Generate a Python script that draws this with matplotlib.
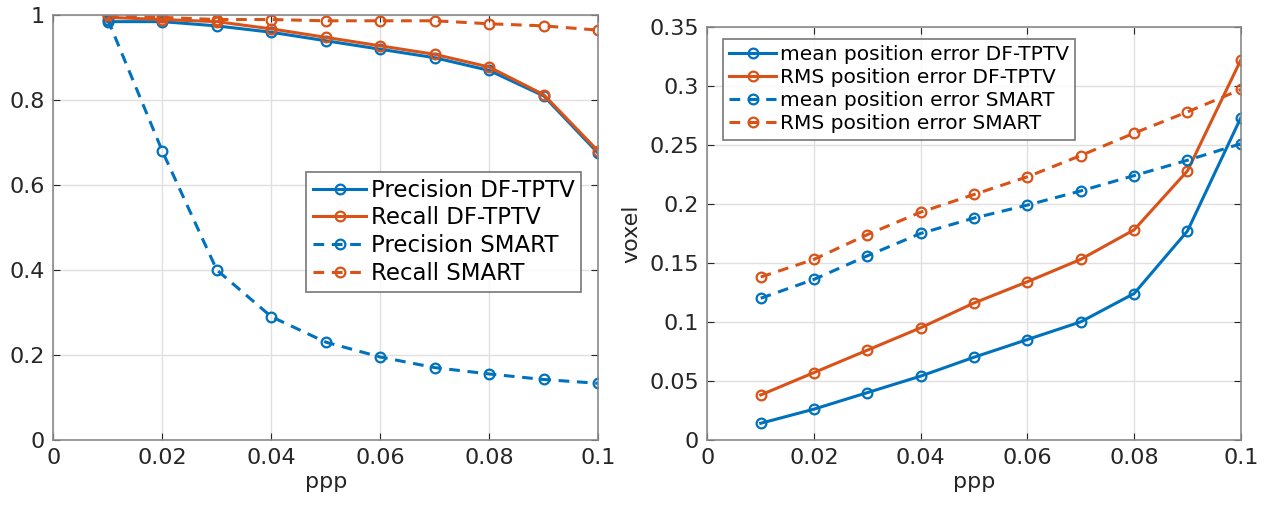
import matplotlib
matplotlib.use("Agg")
import matplotlib.pyplot as plt

ppp = [0.01, 0.02, 0.03, 0.04, 0.05, 0.06, 0.07, 0.08, 0.09, 0.10]

prec_dftptv = [0.985, 0.985, 0.975, 0.96, 0.94, 0.92, 0.90, 0.87, 0.81, 0.675]
rec_dftptv = [0.995, 0.99, 0.985, 0.968, 0.948, 0.928, 0.908, 0.878, 0.813, 0.68]
prec_smart = [0.99, 0.68, 0.40, 0.29, 0.23, 0.195, 0.17, 0.155, 0.142, 0.133]
rec_smart = [1.0, 0.995, 0.99, 0.99, 0.987, 0.987, 0.987, 0.98, 0.975, 0.965]

mean_dftptv = [0.014, 0.026, 0.040, 0.054, 0.070, 0.085, 0.100, 0.124, 0.177, 0.273]
rms_dftptv = [0.038, 0.057, 0.076, 0.095, 0.116, 0.134, 0.153, 0.178, 0.228, 0.322]
mean_smart = [0.120, 0.136, 0.156, 0.175, 0.188, 0.199, 0.211, 0.224, 0.237, 0.251]
rms_smart = [0.138, 0.153, 0.174, 0.193, 0.208, 0.223, 0.241, 0.260, 0.278, 0.297]

xticks = [0, 0.02, 0.04, 0.06, 0.08, 0.1]
xticklabels = ["0", "0.02", "0.04", "0.06", "0.08", "0.1"]
left_yticks = [0, 0.2, 0.4, 0.6, 0.8, 1]
left_yticklabels = ["0", "0.2", "0.4", "0.6", "0.8", "1"]
right_yticks = [0, 0.05, 0.1, 0.15, 0.2, 0.25, 0.3, 0.35]
right_yticklabels = ["0", "0.05", "0.1", "0.15", "0.2", "0.25", "0.3", "0.35"]

BLUE = "#0072BD"
ORANGE = "#D95319"
TXT = "#262626"

plt.rcParams['font.family'] = ['DejaVu Sans']

fig = plt.figure(figsize=(12.7, 5.09), dpi=100)
ax1 = fig.add_axes([0.042, 0.136, 0.429, 0.834])
ax2 = fig.add_axes([0.557, 0.136, 0.420, 0.811])

mk = dict(marker='o', markersize=7, markerfacecolor='none', markeredgewidth=1.6)

ax1.plot(ppp, prec_dftptv, '-', color=BLUE, lw=2.2, label='Precision DF-TPTV', **mk)
ax1.plot(ppp, rec_dftptv, '-', color=ORANGE, lw=2.2, label='Recall DF-TPTV', **mk)
ax1.plot(ppp, prec_smart, '--', color=BLUE, lw=2.2, label='Precision SMART', dashes=(3.5, 2.5), **mk)
ax1.plot(ppp, rec_smart, '--', color=ORANGE, lw=2.2, label='Recall SMART', dashes=(3.5, 2.5), **mk)

ax2.plot(ppp, mean_dftptv, '-', color=BLUE, lw=2.2, label='mean position error DF-TPTV', **mk)
ax2.plot(ppp, rms_dftptv, '-', color=ORANGE, lw=2.2, label='RMS position error DF-TPTV', **mk)
ax2.plot(ppp, mean_smart, '--', color=BLUE, lw=2.2, label='mean position error SMART', dashes=(3.5, 2.5), **mk)
ax2.plot(ppp, rms_smart, '--', color=ORANGE, lw=2.2, label='RMS position error SMART', dashes=(3.5, 2.5), **mk)

for ax, yt, ytl, ylim in [(ax1, left_yticks, left_yticklabels, (0, 1)),
                          (ax2, right_yticks, right_yticklabels, (0, 0.35))]:
    ax.set_xlim(0, 0.1)
    ax.set_ylim(*ylim)
    ax.set_xticks(xticks)
    ax.set_xticklabels(xticklabels)
    ax.set_yticks(yt)
    ax.set_yticklabels(ytl)
    ax.grid(True, color='#e0e0e0', lw=1.0)
    ax.set_axisbelow(True)
    ax.tick_params(labelsize=16, colors=TXT, direction='in', length=5, width=0.8,
                   top=True, right=True, pad=6)
    for s in ax.spines.values():
        s.set_color('#8a8a8a')
        s.set_linewidth(1.2)
    ax.set_xlabel('ppp', fontsize=16, color=TXT, labelpad=3)
    for lab in ax.get_xticklabels() + ax.get_yticklabels():
        lab.set_color(TXT)

ax2.set_ylabel('voxel', fontsize=16, color=TXT, labelpad=6)

leg1 = ax1.legend(loc='center right', bbox_to_anchor=(0.99, 0.49), fontsize=16.5,
                  frameon=True, fancybox=False, edgecolor='#555555', handlelength=2.3,
                  handletextpad=0.2, borderpad=0.3, labelspacing=0.2, borderaxespad=0.5)
leg1.get_frame().set_linewidth(1.2)
leg2 = ax2.legend(loc='upper left', bbox_to_anchor=(0.03, 0.97), fontsize=14.5,
                  frameon=True, fancybox=False, edgecolor='#555555', handlelength=2.3,
                  handletextpad=0.2, borderpad=0.3, labelspacing=0.2, borderaxespad=0.0)
leg2.get_frame().set_linewidth(1.2)

fig.savefig('out.png', dpi=100)
